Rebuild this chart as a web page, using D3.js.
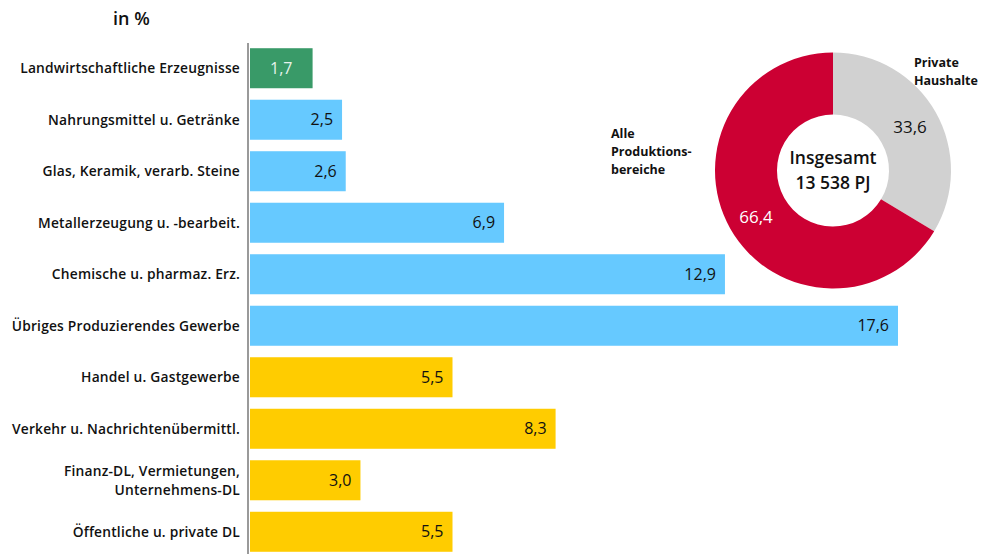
<!DOCTYPE html>
<html>
<head>
<meta charset="utf-8">
<script src="https://cdn.jsdelivr.net/npm/d3@7"></script>
<style>
  html, body { margin: 0; padding: 0; background: #fff; }
  svg { display: block; font-family: "Open Sans", "Noto Sans", sans-serif; }
</style>
</head>
<body>
<svg id="chart" width="986" height="554"></svg>
<script>
// Energy use by sector, shares in percent
const categories = [
  "Landwirtschaftliche Erzeugnisse",
  "Nahrungsmittel u. Getränke",
  "Glas, Keramik, verarb. Steine",
  "Metallerzeugung u. -bearbeit.",
  "Chemische u. pharmaz. Erz.",
  "Übriges Produzierendes Gewerbe",
  "Handel u. Gastgewerbe",
  "Verkehr u. Nachrichtenübermittl.",
  "Finanz-DL, Vermietungen,\nUnternehmens-DL",
  "Öffentliche u. private DL"
];
const values = [1.7, 2.5, 2.6, 6.9, 12.9, 17.6, 5.5, 8.3, 3.0, 5.5];
const groups = ["agri", "ind", "ind", "ind", "ind", "ind", "serv", "serv", "serv", "serv"];

// Donut: total split
const donutLabels = ["Private\nHaushalte", "Alle\nProduktions-\nbereiche"];
const donutValues = [33.6, 66.4];
const donutTotal = ["Insgesamt", "13 538 PJ"];

const colors = { agri: "#399a68", ind: "#66c9ff", serv: "#ffcc00" };
const donutColors = ["#d1d1d1", "#cc0033"];

const fmt = v => d3.format(".1f")(v).replace(".", ",");

const svg = d3.select("#chart");

// Bar scales
const x = d3.scaleLinear().domain([0, 17.6]).range([250, 898]);
const y = d3.scaleBand().domain(categories).range([42.5, 557.5]).paddingInner(0.223).paddingOuter(0.111);

// Title
svg.append("text")
  .attr("x", 113).attr("y", 25)
  .attr("font-size", 18).attr("font-weight", 600).attr("fill", "#111")
  .text("in %");

// Bars
svg.append("g").selectAll("rect")
  .data(values)
  .join("rect")
  .attr("x", x(0))
  .attr("y", (d, i) => y(categories[i]))
  .attr("width", d => x(d) - x(0))
  .attr("height", y.bandwidth())
  .attr("fill", (d, i) => colors[groups[i]]);

// Value labels
svg.append("g").selectAll("text")
  .data(values)
  .join("text")
  .attr("x", (d, i) => groups[i] === "agri" ? (x(d) + x(0)) / 2 : x(d) - 9)
  .attr("y", (d, i) => y(categories[i]) + y.bandwidth() / 2 + 5.5)
  .attr("text-anchor", (d, i) => groups[i] === "agri" ? "middle" : "end")
  .attr("font-size", 16)
  .attr("font-weight", 500)
  .attr("fill", (d, i) => groups[i] === "agri" ? "#e6f3ec" : "#111")
  .text(d => fmt(d));

// Vertical axis line
svg.append("line")
  .attr("x1", 248).attr("x2", 248)
  .attr("y1", 43).attr("y2", 554)
  .attr("stroke", "#9a9a9a").attr("stroke-width", 2);

// Category labels
const catG = svg.append("g");
categories.forEach((c, i) => {
  const lines = c.split("\n");
  const cy = y(c) + y.bandwidth() / 2;
  const t = catG.append("text")
    .attr("text-anchor", "end")
    .attr("font-size", 13.8)
    .attr("font-weight", 600)
    .attr("letter-spacing", 0.2)
    .attr("fill", "#111");
  lines.forEach((l, j) => {
    t.append("tspan")
      .attr("x", 240)
      .attr("y", cy + 5 + (j - (lines.length - 1) / 2) * 19)
      .text(l);
  });
});

// Donut
const cx = 833, cyD = 170.5, rOuter = 118, rInner = 56;
const pie = d3.pie().sort(null).value(d => d);
const arcs = pie(donutValues);
const arc = d3.arc().innerRadius(rInner).outerRadius(rOuter);
const dg = svg.append("g").attr("transform", `translate(${cx},${cyD})`);
dg.selectAll("path")
  .data(arcs)
  .join("path")
  .attr("d", arc)
  .attr("fill", (d, i) => donutColors[i]);

// Slice value labels
const valuePos = [[77, -38], [-77, 52]];
dg.selectAll("text.val")
  .data(arcs)
  .join("text")
  .attr("class", "val")
  .attr("x", (d, i) => valuePos[i][0])
  .attr("y", (d, i) => valuePos[i][1])
  .attr("text-anchor", "middle")
  .attr("font-size", 17)
  .attr("font-weight", 500)
  .attr("fill", (d, i) => i === 0 ? "#111" : "#fff")
  .text(d => fmt(d.value));

// Center total
donutTotal.forEach((t, i) => {
  dg.append("text")
    .attr("x", 0).attr("y", -7 + i * 25)
    .attr("text-anchor", "middle")
    .attr("font-size", 17.5)
    .attr("font-weight", 600)
    .attr("fill", "#111")
    .text(t);
});

// Slice category labels
const nameAnchors = [[914, 67], [611, 138]];
donutLabels.forEach((lab, i) => {
  const t = svg.append("text")
    .attr("font-size", 12.5)
    .attr("font-weight", 700)
    .attr("fill", "#111");
  lab.split("\n").forEach((l, j) => {
    t.append("tspan")
      .attr("x", nameAnchors[i][0])
      .attr("y", nameAnchors[i][1] + j * 18)
      .text(l);
  });
});
</script>
</body>
</html>
